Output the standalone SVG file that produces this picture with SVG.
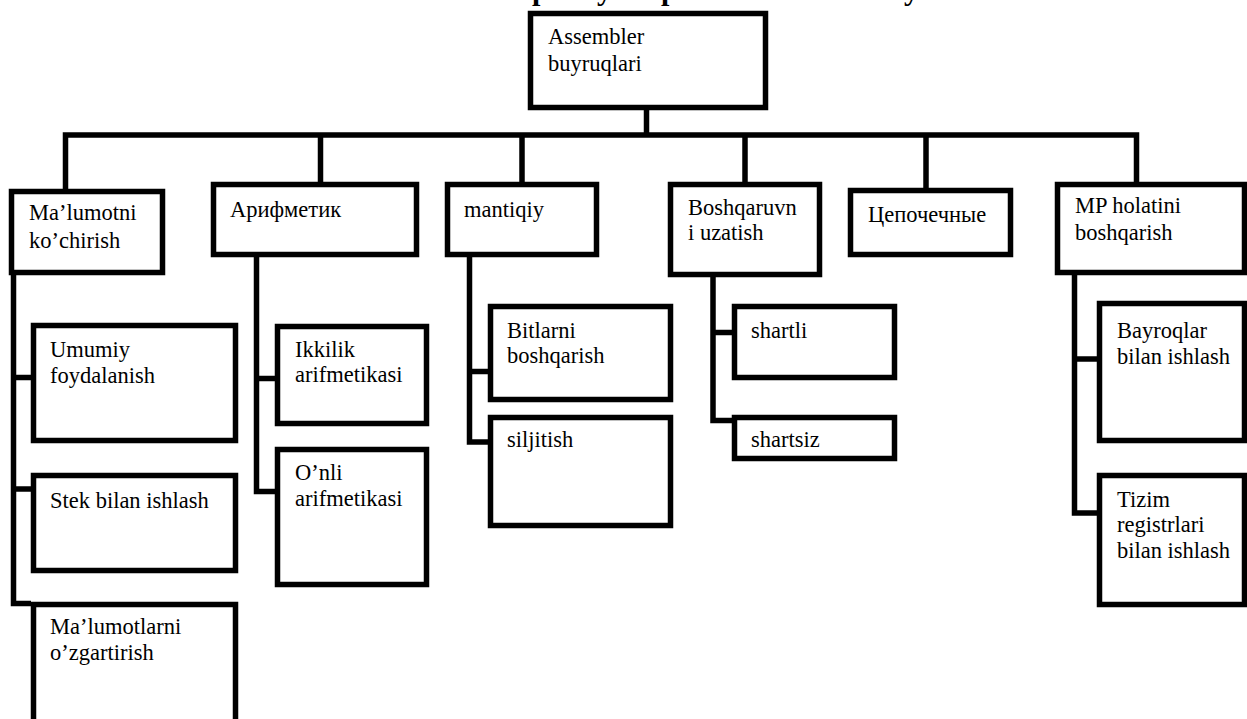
<svg xmlns="http://www.w3.org/2000/svg" width="1247" height="719" viewBox="0 0 1247 719">
<style>
.box{fill:#fff;stroke:#000;stroke-width:5.5;stroke-linejoin:miter}
.ln{fill:none;stroke:#000;stroke-width:5.5;stroke-linejoin:miter;stroke-linecap:butt}
.t{font-family:"Liberation Serif","Times New Roman",serif;font-size:22.5px;fill:#000}
.title{font-family:"Liberation Serif","Times New Roman",serif;font-size:30px;font-weight:bold;fill:#000}
</style>
<rect width="1247" height="719" fill="#fff"/>
<g id="title-fragment">
<text class="title" x="532" y="0">р</text>
<text class="title" x="597" y="0">у</text>
<text class="title" x="661" y="0">р</text>
<text class="title" x="904" y="0">у</text>
</g>
<g id="connectors">
<path class="ln" d="M646.5 110 V135"/>
<path class="ln" d="M65.5 189 V135 H1136.5 V182"/>
<path class="ln" d="M320.5 135 V182"/>
<path class="ln" d="M522 135 V182"/>
<path class="ln" d="M745 135 V182"/>
<path class="ln" d="M926 135 V188"/>
<path class="ln" d="M13.5 275 V603.5 H31"/>
<path class="ln" d="M13.5 377.5 H31"/>
<path class="ln" d="M13.5 489 H31"/>
<path class="ln" d="M256.5 257 V491.5 H275"/>
<path class="ln" d="M256.5 378.5 H275"/>
<path class="ln" d="M469.5 257 V442 H488"/>
<path class="ln" d="M469.5 371.5 H488"/>
<path class="ln" d="M713 277 V420.5 H732"/>
<path class="ln" d="M713 332.5 H732"/>
<path class="ln" d="M1074.5 275 V513 H1097"/>
<path class="ln" d="M1074.5 359 H1097"/>
</g>
<g id="root"><rect class="box" x="530.5" y="13.5" width="235" height="94"/>
<text class="t" x="548" y="44">Assembler</text><text class="t" x="548" y="71">buyruqlari</text></g>
<g id="n-malumotni"><rect class="box" x="11.5" y="191.5" width="151" height="81"/>
<text class="t" x="29" y="220">Ma’lumotni</text><text class="t" x="29" y="248">ko’chirish</text></g>
<g id="n-arifmetik"><rect class="box" x="213.5" y="184.5" width="203" height="70"/>
<text class="t" x="230" y="217">Арифметик</text></g>
<g id="n-mantiqiy"><rect class="box" x="447.5" y="184.5" width="149" height="70"/>
<text class="t" x="464" y="217">mantiqiy</text></g>
<g id="n-boshqaruv"><rect class="box" x="670.5" y="184.5" width="149" height="90"/>
<text class="t" x="688" y="215">Boshqaruvn</text><text class="t" x="688" y="240">i uzatish</text></g>
<g id="n-cepochechnye"><rect class="box" x="850.5" y="190.5" width="160" height="64"/>
<text class="t" x="868" y="222">Цепочечные</text></g>
<g id="n-mp"><rect class="box" x="1057.5" y="184.5" width="187" height="88"/>
<text class="t" x="1075" y="213">MP holatini</text><text class="t" x="1075" y="240">boshqarish</text></g>
<g id="n-umumiy"><rect class="box" x="33.5" y="325.5" width="202" height="115"/>
<text class="t" x="50" y="357">Umumiy</text><text class="t" x="50" y="383">foydalanish</text></g>
<g id="n-stek"><rect class="box" x="33.5" y="475.5" width="202" height="95"/>
<text class="t" x="50" y="508">Stek bilan ishlash</text></g>
<g id="n-ozgartirish"><rect class="box" x="33.5" y="604.5" width="202" height="130"/>
<text class="t" x="50" y="634">Ma’lumotlarni</text><text class="t" x="50" y="660">o’zgartirish</text></g>
<g id="n-ikkilik"><rect class="box" x="277.5" y="326.5" width="149" height="97"/>
<text class="t" x="295" y="357">Ikkilik</text><text class="t" x="295" y="382">arifmetikasi</text></g>
<g id="n-onli"><rect class="box" x="277.5" y="449.5" width="149" height="135"/>
<text class="t" x="295" y="480">O’nli</text><text class="t" x="295" y="506">arifmetikasi</text></g>
<g id="n-bitlarni"><rect class="box" x="490.5" y="306.5" width="180" height="93"/>
<text class="t" x="507" y="338">Bitlarni</text><text class="t" x="507" y="363">boshqarish</text></g>
<g id="n-siljitish"><rect class="box" x="490.5" y="417.5" width="180" height="108"/>
<text class="t" x="507" y="447">siljitish</text></g>
<g id="n-shartli"><rect class="box" x="734.5" y="306.5" width="160" height="71"/>
<text class="t" x="751" y="338">shartli</text></g>
<g id="n-shartsiz"><rect class="box" x="734.5" y="417.5" width="160" height="41"/>
<text class="t" x="751" y="447">shartsiz</text></g>
<g id="n-bayroqlar"><rect class="box" x="1099.5" y="303.5" width="145" height="137"/>
<text class="t" x="1117" y="338">Bayroqlar</text><text class="t" x="1117" y="364">bilan ishlash</text></g>
<g id="n-tizim"><rect class="box" x="1099.5" y="475.5" width="145" height="129"/>
<text class="t" x="1117" y="507">Tizim</text><text class="t" x="1117" y="532">registrlari</text><text class="t" x="1117" y="558">bilan ishlash</text></g>
</svg>
